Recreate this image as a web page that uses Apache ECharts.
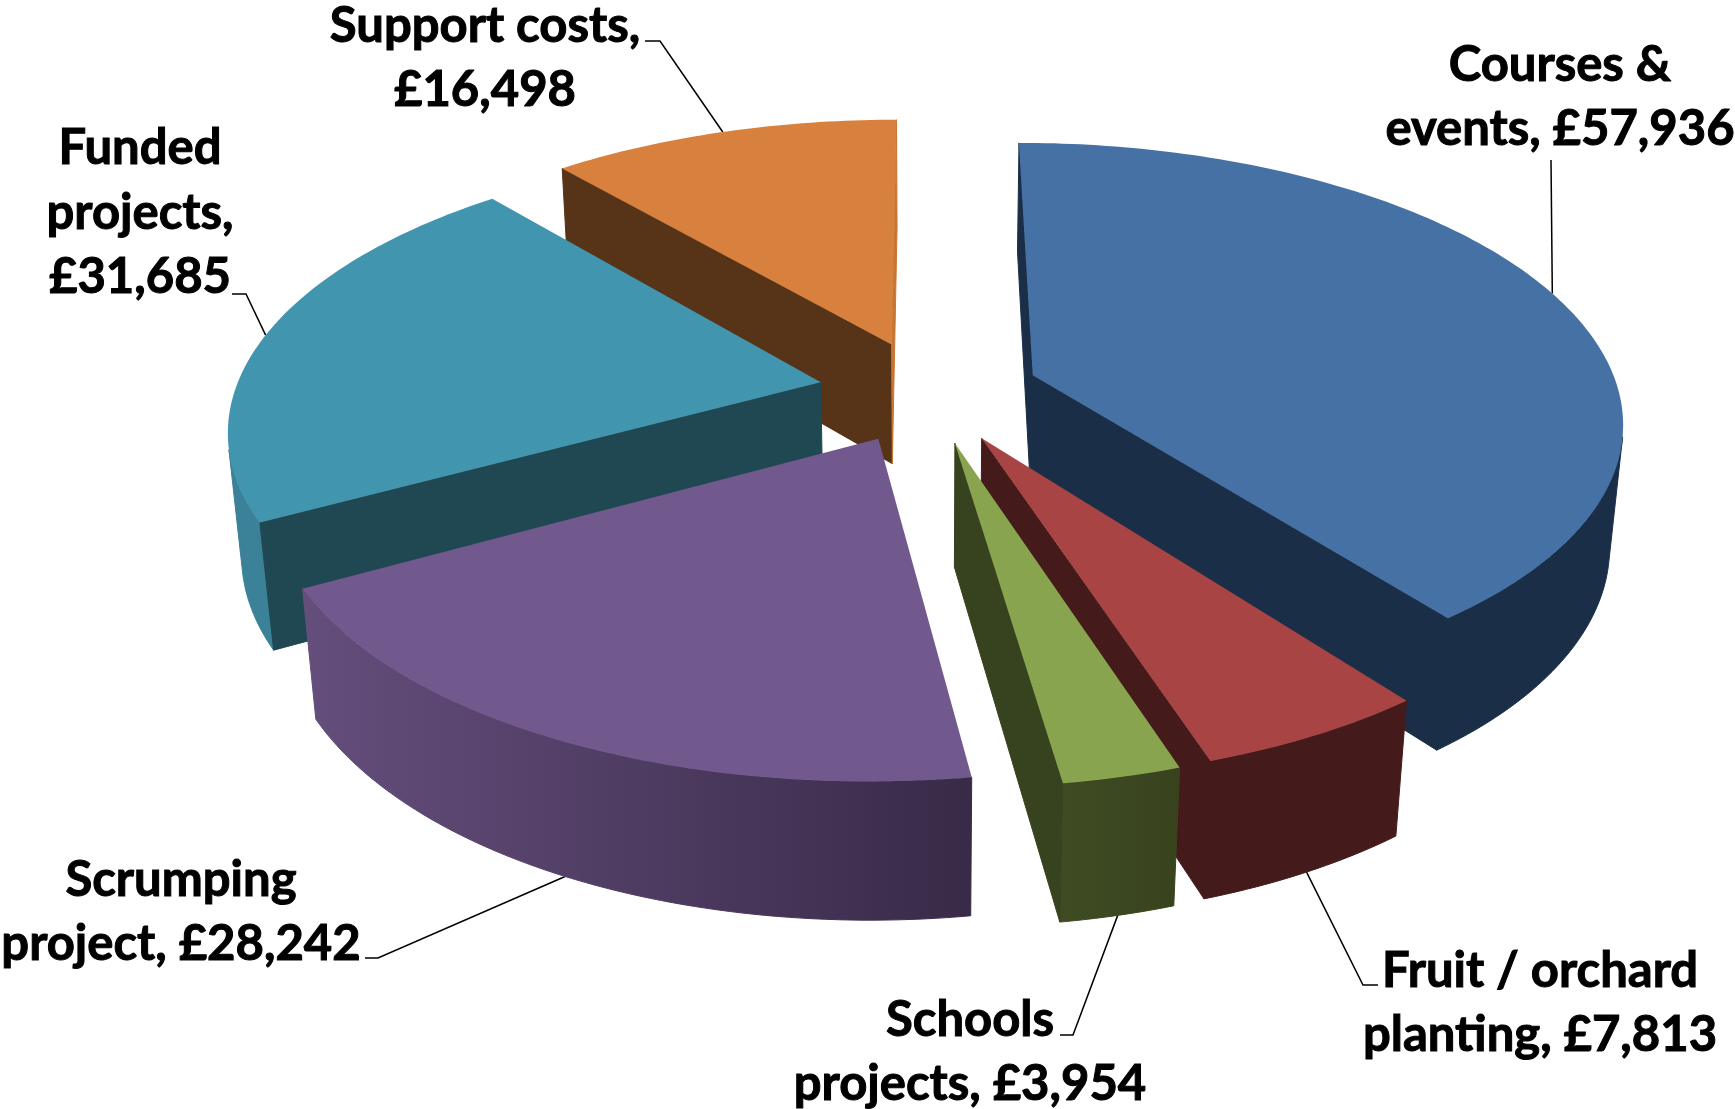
<!DOCTYPE html>
<html><head><meta charset="utf-8">
<style>html,body{margin:0;padding:0;background:#fff}#c{width:1735px;height:1109px}</style>
<script src="https://cdn.jsdelivr.net/npm/echarts@6/dist/echarts.min.js"></script>
</head><body><div id="c"></div>
<script>
// Data
const categories = ['Courses &\nevents', 'Fruit / orchard\nplanting', 'Schools\nprojects', 'Scrumping\nproject', 'Funded\nprojects', 'Support costs'];
const values = [57936, 7813, 3954, 28242, 31685, 16498];
const valueBreaks = [' ', ' ', ' ', ' ', '\n', '\n'];

// Styles and layout (not data)
const topColors  = ['#4571a5', '#a84544', '#89a44f', '#71588d', '#4195af', '#d8803d'];
const cutColors  = ['#1b2e47', '#441b1a', '#37421e', '#3a2b4a', '#204852', '#573317'];
const cutEndCols = ['#1b2e47', '#441b1a', '#37421e', '#3a2b4a', '#204852', '#c77632'];
const wallLeft   = ['#1b2e47', '#441b1a', '#3f4c23', '#644e7c', '#3b8198', '#c77632'];
const wallRight  = ['#1b2e47', '#441b1a', '#38431e', '#392a48', '#3b8198', '#c77632'];
const drawOrder  = [5, 4, 0, 1, 2, 3];
const labelPos   = [[1560, 97], [1540, 1003], [970, 1052], [181, 912], [140, 213], [485, 58]];
const leaderBend = [null, [[1363, 985], [1378, 985]], [[1073, 1035], [1060, 1035]], [[378, 958], [365, 958]], [[246, 294], [232, 294]], [[660, 41], [645, 41]]];
const leaderEnd  = [[1551, 160]];
const G = { cx: 929, cy: 391.5, R: 586, e: 110.6, h: 140, sinT: 0.466, D: 3340 };
G.cosT = Math.sqrt(1 - G.sinT * G.sinT);

const total = values.reduce((a, b) => a + b, 0);
const rad = d => d * Math.PI / 180;
const fmt = v => '£' + v.toLocaleString('en-GB');
const starts = []; { let acc = 0; values.forEach(v => { starts.push(acc / total * 360); acc += v; }); }
const ends = values.map((v, i) => starts[i] + v / total * 360);

function project(X, Y, Z) {
  const zv = Y * G.cosT - Z * G.sinT;
  const yv = Y * G.sinT + Z * G.cosT;
  const s = G.D / (G.D + zv);
  return [G.cx + X * s, G.cy - yv * s];
}
function apex(i) {
  const m = rad((starts[i] + ends[i]) / 2);
  return [G.e * Math.sin(m), G.e * Math.cos(m)];
}
function rimPoint(i, deg, Z) {
  const a = apex(i), t = rad(deg);
  return project(a[0] + G.R * Math.sin(t), a[1] + G.R * Math.cos(t), Z);
}
function area(p) {
  let s = 0;
  p.forEach((q, k) => { const r = p[(k + 1) % p.length]; s += q[0] * r[1] - r[0] * q[1]; });
  return s / 2;
}

function renderSlice(params, api) {
  const i = api.value(1);
  const a = apex(i), children = [];
  const A = project(a[0], a[1], 0), Ab = project(a[0], a[1], -G.h);
  const n = Math.max(4, Math.ceil(ends[i] - starts[i]));
  const top = [A], rimT = [], rimB = [];
  for (let k = 0; k <= n; k++) {
    const d = starts[i] + (ends[i] - starts[i]) * k / n;
    rimT.push(rimPoint(i, d, 0)); rimB.push(rimPoint(i, d, -G.h));
    top.push(rimT[k]);
  }
  // outer wall: the runs of rim segments that face the viewer
  let run = null; const runs = [];
  for (let k = 0; k < n; k++) {
    const facing = area([rimT[k], rimT[k + 1], rimB[k + 1], rimB[k]]) < 0;
    if (facing) { if (!run) { run = [k, k + 1]; runs.push(run); } else run[1] = k + 1; } else run = null;
  }
  runs.forEach(r => {
    const upper = rimT.slice(r[0], r[1] + 1), lower = rimB.slice(r[0], r[1] + 1).reverse();
    const grad = () => new echarts.graphic.LinearGradient(0, 0, 1, 0, [{ offset: 0, color: wallLeft[i] }, { offset: 1, color: wallRight[i] }]);
    children.push({ type: 'polygon', shape: { points: upper.concat(lower) }, style: { fill: grad(), stroke: grad(), lineWidth: 1 } });
  });
  // radial cut faces
  const cutS = [A, rimT[0], rimB[0], Ab], cutE = [A, Ab, rimB[n], rimT[n]];
  [[cutS, cutColors[i]], [cutE, cutEndCols[i]]].forEach(([f, col]) => {
    if (area(f) < 0) children.push({ type: 'polygon', shape: { points: f }, style: { fill: col, stroke: col, lineWidth: 1 } });
  });
  children.push({ type: 'polygon', shape: { points: top }, style: { fill: topColors[i] } });
  return { type: 'group', children };
}

function renderLabel(params, api) {
  const i = api.value(1);
  const mid = (starts[i] + ends[i]) / 2;
  const anchor = rimPoint(i, mid, Math.cos(rad(mid)) < 0 ? -G.h : 0);
  const bend = leaderBend[i] || leaderEnd;
  const text = categories[i] + ',' + valueBreaks[i] + fmt(values[i]);
  return { type: 'group', children: [
    { type: 'polyline', shape: { points: [anchor].concat(bend) }, style: { fill: 'none', stroke: '#000', lineWidth: 1.5 } },
    { type: 'text', x: labelPos[i][0], y: labelPos[i][1], style: {
      text, fill: '#000', stroke: '#000', lineWidth: 1, align: 'center', verticalAlign: 'middle',
      font: 'bold 49px Lato', lineHeight: 64.5
    } }
  ] };
}

const chart = echarts.init(document.getElementById('c'), null, { renderer: 'canvas' });
chart.setOption({
  animation: false,
  backgroundColor: '#ffffff',
  series: [
    { type: 'custom', name: 'labels', coordinateSystem: 'none', z: 1, silent: true,
      renderItem: renderLabel, data: values.map((v, i) => [v, i]) },
    { type: 'custom', name: 'slices', coordinateSystem: 'none', z: 2, silent: true,
      renderItem: renderSlice, data: drawOrder.map(i => [values[i], i]) }
  ]
});
</script></body></html>
